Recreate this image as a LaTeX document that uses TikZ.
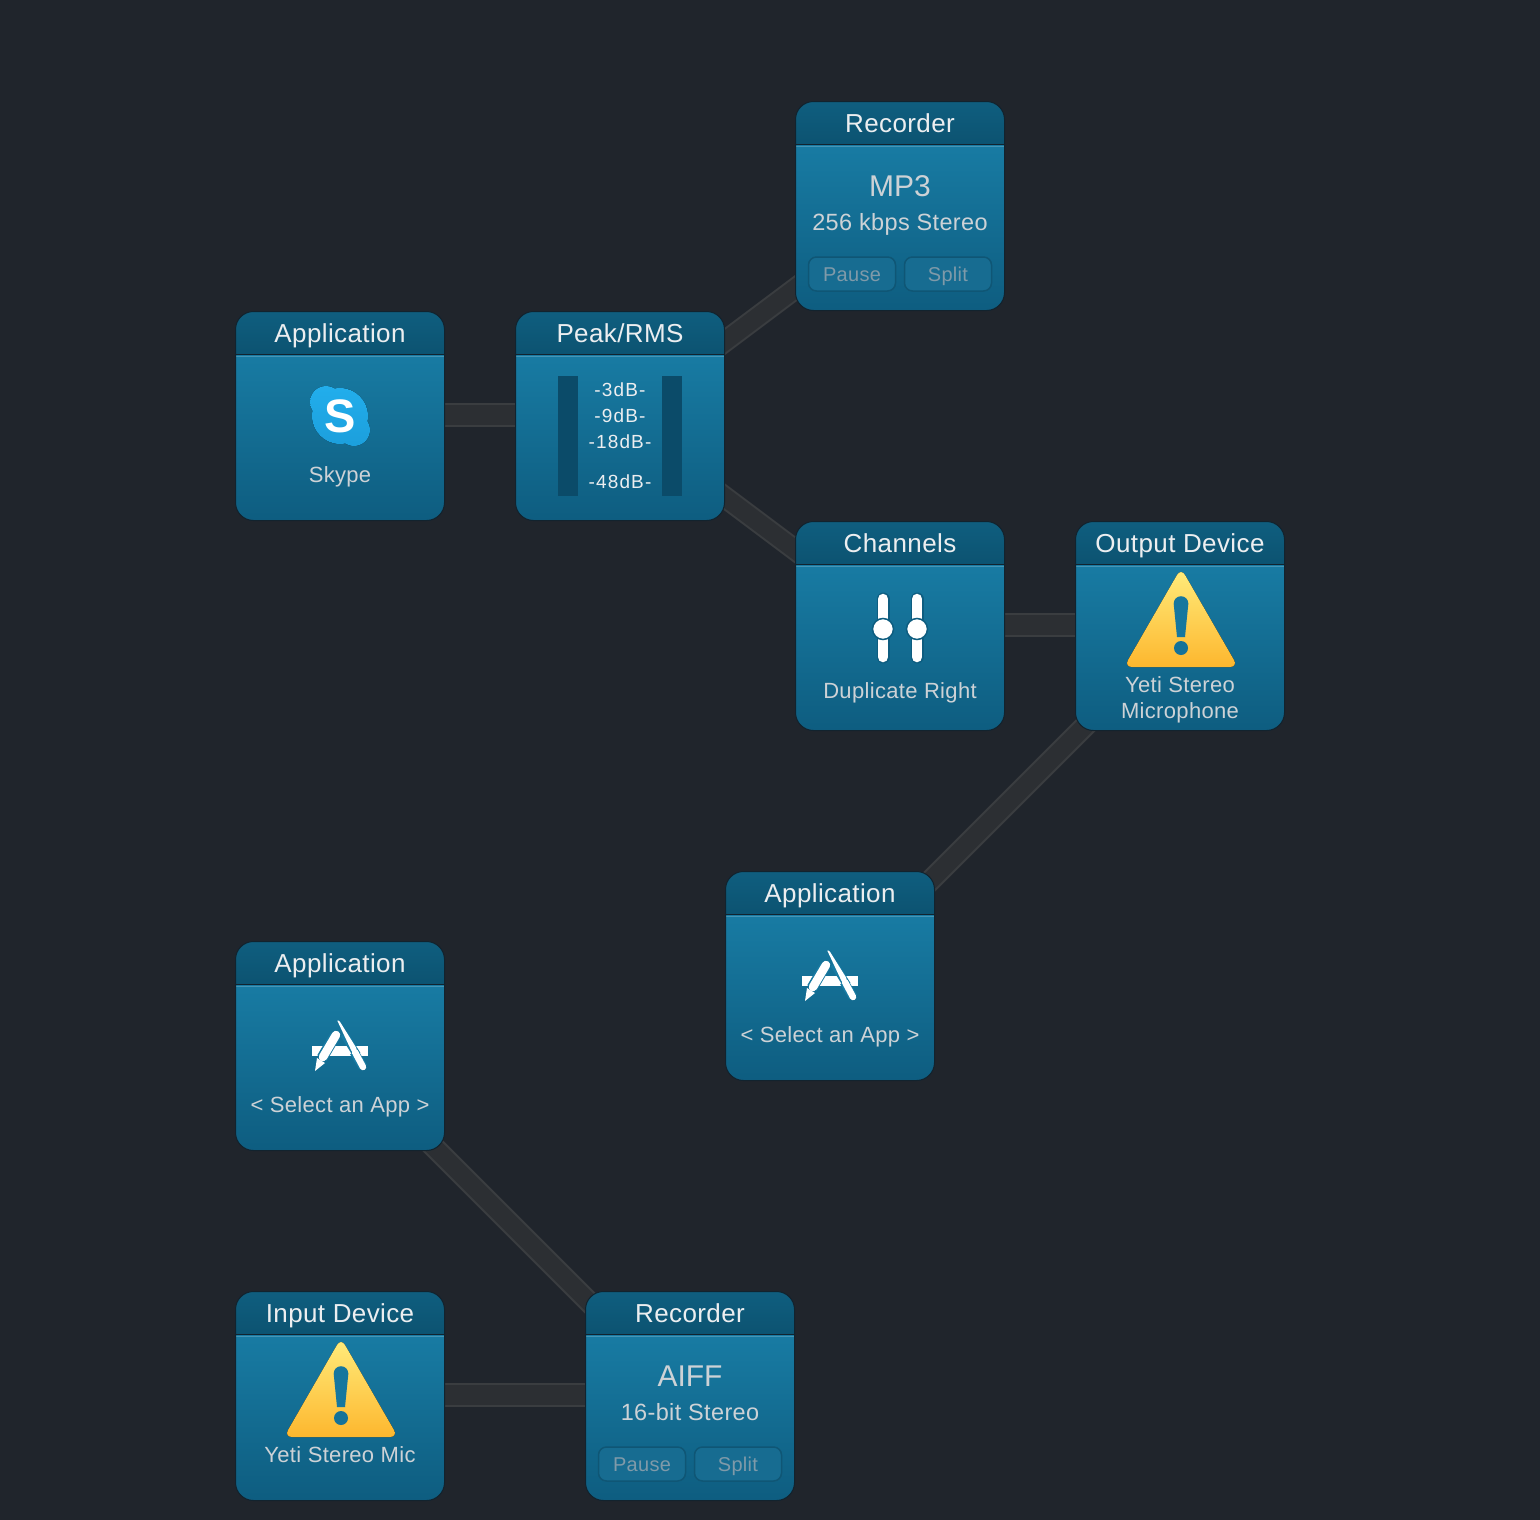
\documentclass[tikz,border=0pt]{standalone}
\usepackage{fontspec}
\setmainfont[LetterSpace=1.5]{Liberation Sans}
\newfontfamily\meterfont[LetterSpace=6]{Liberation Sans}
\newfontfamily\formatfont{Liberation Sans}
\usetikzlibrary{positioning, calc}
\definecolor{pagebg}{HTML}{20252C}
\definecolor{wireedge}{HTML}{3A3D40}
\definecolor{wiremid}{HTML}{2C2F33}
\definecolor{cardline}{HTML}{12232E}
\definecolor{headtop}{HTML}{0F5E7F}
\definecolor{headbot}{HTML}{0C5371}
\definecolor{bodytop}{HTML}{187BA3}
\definecolor{bodybot}{HTML}{0E5D80}
\definecolor{barblue}{HTML}{0B4B69}
\definecolor{titletext}{HTML}{ECEEF0}
\definecolor{subtext}{HTML}{CDD2D6}
\definecolor{buttontext}{HTML}{7F9AA9}
\definecolor{buttonfill}{HTML}{176C91}
\definecolor{buttonline}{HTML}{0F5675}
\definecolor{skypetop}{HTML}{22AEEC}
\definecolor{skypebot}{HTML}{1C9FDC}
\definecolor{warntop}{HTML}{FFEC7C}
\definecolor{warnbot}{HTML}{FDB72E}
\pgfdeclarelayer{wires}
\pgfsetlayers{wires,main}
\tikzset{
  card/.style={draw=cardline, line width=1pt, minimum size=209pt, inner sep=0pt, outer sep=0pt, rounded corners=18pt,
    path picture={
      \begin{scope}[sharp corners]
        \fill[top color=bodytop, bottom color=bodybot] ([yshift=-44pt]path picture bounding box.north west) rectangle (path picture bounding box.south east);
        \fill[top color=headtop, bottom color=headbot] (path picture bounding box.north west) rectangle ([yshift=-43pt]path picture bounding box.north east);
        \draw[cardline, line width=1pt] ([yshift=-43pt]path picture bounding box.north west) -- ([yshift=-43pt]path picture bounding box.north east);
        \draw[bodytop!80!white, line width=1pt] ([yshift=-44.5pt]path picture bounding box.north west) -- ([yshift=-44.5pt]path picture bounding box.north east);
      \end{scope}
    }},
  cardtitle/.style={text=titletext, font=\fontsize{26}{30}\selectfont, inner sep=0pt, text height=18pt, text depth=0pt},
  cardsub/.style={text=subtext, font=\fontsize{22}{26}\selectfont, inner sep=0pt, align=center},
  subline/.style={cardsub, text height=14pt, text depth=0pt},
  cardrate/.style={subline, font=\fontsize{23.5}{26}\selectfont},
  cardformat/.style={text=subtext, font=\formatfont\fontsize{30}{36}\selectfont, inner sep=0pt, text height=21pt, text depth=0pt},
  meterlabel/.style={text=titletext, font=\meterfont\fontsize{19}{22}\selectfont, inner sep=0pt, text height=14pt, text depth=0pt},
  meterbar/.style={fill=barblue},
  recbutton/.style={draw=buttonline, fill=buttonfill, line width=1.5pt, rounded corners=8pt, minimum width=87pt, minimum height=34pt,
    inner sep=0pt, text=buttontext, font=\fontsize{20}{24}\selectfont, text height=14pt, text depth=0pt},
  wire/.style={draw=wireedge, line width=2pt, double=wiremid, double distance=20pt},
  slantwire/.style={wire, double distance=18pt},
  warnicon/.pic={
    \fill[top color=warntop, bottom color=warnbot, rounded corners=8pt] (1,-58) -- (58,41) -- (-56,41) -- cycle;
    \fill[bodytop!85!bodybot] (1,-22.5) circle (7.3) (-6.3,-22) -- (8.3,-22) -- (5,11) -- (-3,11) -- cycle;
    \fill[bodytop!70!bodybot] (1,22) circle (7);
  },
  appicon/.pic={
    \fill[white] (-28,0) rectangle (28,10);
    \draw[bodytop, line width=8pt] (4,-12) -- (17,9);
    \fill[white, rounded corners=1pt] (-3,-26) -- (-0.5,-25) -- (17,3) -- (12,6) -- cycle;
    \draw[bodytop, line width=9pt] (14,6) -- (23,21);
    \draw[white, line width=6.5pt, line cap=round] (15,6) -- (23,21);
    \draw[bodytop, line width=11pt] (-18,12) -- (-5,-10);
    \draw[white, line width=8.5pt, line cap=round] (-17,11) -- (-4,-11);
    \fill[white] (-25,25) -- (-23,12) -- (-15,17) -- cycle;
  },
  slidericon/.pic={
    \foreach \s in {-17,17} {
      \draw[bodybot, line width=13pt, line cap=round] (\s,-27) -- (\s,31);
      \draw[white, line width=10.5pt, line cap=round] (\s,-27) -- (\s,31);
      \fill[white, draw=bodybot, line width=1.5pt] (\s,3) circle (10.5);
    }
  },
  skypeicon/.pic={
    \fill[top color=skypetop, bottom color=skypebot] (-14,-14) circle (16) (14,14) circle (16) (0,0) circle (28);
  }
}
\begin{document}
\begin{tikzpicture}[x=1pt, y=-1pt]
  \useasboundingbox (0,0) rectangle (1540,1520);
  \foreach \n/\x/\y/\t in {skype/340/416/Application, peak/620/416/{Peak/RMS}, mp3/900/206/Recorder,
      channels/900/626/Channels, output/1180/626/Output Device, apptop/830/976/Application,
      appbot/340/1046/Application, input/340/1396/Input Device, aiff/690/1396/Recorder} {
    \node[card] (\n) at (\x,\y) {};
    \node[cardtitle] (\n-title) at (\x,\y-83) {\t};
  }
  \begin{pgfonlayer}{wires}
    \fill[pagebg] (0,0) rectangle (1540,1520);
    \draw[wire] ([yshift=1pt]skype.center) -- ([yshift=1pt]peak.center);
    \draw[slantwire] ([yshift=-4pt]peak.center) -- ([yshift=-4pt]mp3.center);
    \draw[slantwire] ([yshift=-2.5pt]peak.center) -- ([yshift=-2.5pt]channels.center);
    \draw[wire] ([yshift=1pt]channels.center) -- ([yshift=1pt]output.center);
    \draw[slantwire] ([yshift=-5pt]output.center) -- ([yshift=-5pt]apptop.center);
    \draw[slantwire] ([yshift=-7pt]appbot.center) -- ([yshift=-7pt]aiff.center);
    \draw[wire] ([yshift=1pt]input.center) -- ([yshift=1pt]aiff.center);
  \end{pgfonlayer}
  \pic at (skype.center) {skypeicon};
  \node[text=white, inner sep=0pt, font=\bfseries\fontsize{47}{50}\selectfont] (skype-s) at (skype.center) {S};
  \node[subline] (skype-name) at ($(skype.center)+(0,59)$) {Skype};
  \fill[meterbar] ($(peak.center)+(-62,-40)$) rectangle +(20,120);
  \fill[meterbar] ($(peak.center)+(42,-40)$) rectangle +(20,120);
  \foreach \n/\d/\t in {m3/-27/-3dB-, m9/-1/-9dB-, m18/25/-18dB-, m48/65/-48dB-} {
    \node[meterlabel] (peak-\n) at ($(peak.center)+(0,\d)$) {\t};
  }
  \foreach \n/\f/\r in {mp3/MP3/256 kbps Stereo, aiff/AIFF/16-bit Stereo} {
    \node[cardformat] (\n-format) at ($(\n.center)+(0,-20)$) {\f};
    \node[cardrate] (\n-rate) at ($(\n.center)+(0,17)$) {\r};
    \node[recbutton] (\n-pause) at ($(\n.center)+(-48,68)$) {Pause};
    \node[recbutton] (\n-split) at ($(\n.center)+(48,68)$) {Split};
  }
  \pic at (channels.center) {slidericon};
  \node[subline] (channels-name) at ($(channels.center)+(0,65)$) {Duplicate Right};
  \pic at (output.center) {warnicon};
  \node[cardsub] (output-name) at ($(output.center)+(0,73.5)$) {Yeti Stereo\\Microphone};
  \foreach \n in {apptop, appbot} {
    \pic at (\n.center) {appicon};
    \node[subline] (\n-name) at ($(\n.center)+(0,59)$) {< Select an App >};
  }
  \pic at (input.center) {warnicon};
  \node[subline] (input-name) at ($(input.center)+(0,59)$) {Yeti Stereo Mic};
\end{tikzpicture}
\end{document}
